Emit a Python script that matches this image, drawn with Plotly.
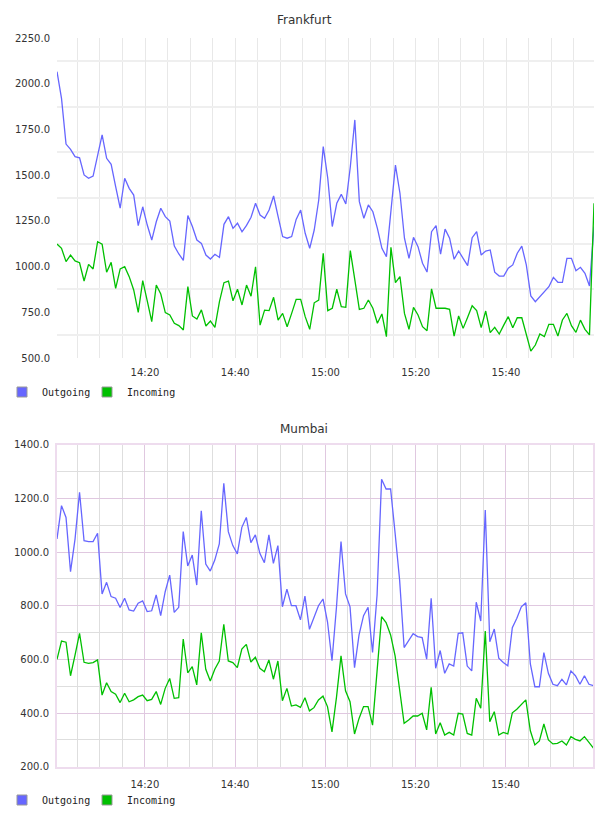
import plotly.graph_objects as go
from datetime import datetime, timedelta

# ---------------- data ----------------
start_time = datetime(2024, 1, 1, 14, 0, 30)
minutes = list(range(120))
times = [start_time + timedelta(minutes=m) for m in minutes]

tick_times = ["2024-01-01 14:20:00", "2024-01-01 14:40:00", "2024-01-01 15:00:00",
              "2024-01-01 15:20:00", "2024-01-01 15:40:00"]
tick_text = ["14:20", "14:40", "15:00", "15:20", "15:40"]

fra_ticks = [500, 750, 1000, 1250, 1500, 1750, 2000, 2250]
mum_ticks = [200, 400, 600, 800, 1000, 1200, 1400]

fra_out = [2066, 1920, 1670, 1641, 1601, 1595, 1501, 1483, 1495, 1610, 1720, 1592, 1559, 1437, 1319,
           1483, 1428, 1391, 1224, 1327, 1227, 1145, 1245, 1319, 1273, 1249, 1112, 1069, 1034, 1279,
           1219, 1145, 1127, 1063, 1041, 1067, 1050, 1231, 1273, 1209, 1237, 1190, 1225, 1270,
           1346, 1282, 1264, 1309, 1386, 1273, 1164, 1155, 1164, 1258, 1309, 1182, 1100, 1200, 1364,
           1656, 1483, 1219, 1346, 1395, 1342, 1546, 1802, 1355, 1264, 1337, 1300, 1209, 1100, 1054,
           1309, 1555, 1401, 1155, 1045, 1160, 1109, 1018, 970, 1191, 1224, 1068,
           1205, 1155, 1040, 1085, 1045, 1005, 1158, 1191, 1063, 1085, 1091, 969, 948, 948, 991,
           1009, 1073, 1112, 1009, 839, 808, 835, 863, 890, 941, 914, 914, 1045, 1045, 977, 996,
           963, 894, 1219]
fra_in = [1123, 1100, 1027, 1063, 1031, 1021, 921, 1012, 987, 1136, 1122, 969, 1023, 881, 987,
          999, 945, 872, 750, 923, 813, 699, 899, 850, 748, 735, 690, 677, 653, 890, 730, 713,
          763, 675, 702, 668, 808, 912, 921, 813, 876, 790, 899, 838,
          999, 680, 762, 759, 832, 707, 744, 671, 744, 821, 821, 726, 657, 802, 817, 1073, 759,
          772, 876, 781, 777, 1087, 927, 766, 772, 817, 772, 690, 741, 617, 1105, 912, 945, 744,
          657, 777, 735, 671, 649, 878, 772, 772,
          772, 766, 620, 730, 662, 723, 786, 759, 666, 757, 639, 668, 631, 680, 726, 666, 720,
          720, 631, 538, 571, 631, 617, 684, 684, 620, 708, 744, 677, 640, 707, 657, 626, 1346]

mum_out = [1049, 1173, 1129, 927, 1048, 1223, 1042, 1039, 1039, 1070, 844, 887, 834, 828, 793,
           828, 784, 780, 809, 818, 778, 781, 840, 763, 852, 914, 775, 794, 1076, 948, 989, 877,
           1154, 955, 929, 970, 1030, 1256, 1076, 1024, 993, 1092, 1129, 1035,
           1064, 995, 960, 1064, 958, 1024, 796, 862, 800, 800, 747, 836, 712, 753, 800, 825,
           740, 595, 796, 1039, 844, 796, 569, 691, 763, 794, 626, 840, 1271, 1235, 1235, 1070,
           896, 644, 668, 696, 685, 681, 601, 828, 567, 633,
           548, 583, 575, 697, 699, 575, 557, 813, 743, 1157, 666, 713, 604, 588, 576, 718, 753,
           796, 811, 583, 498, 498, 625, 548, 507, 502, 526, 505, 557, 539, 507, 539, 507, 502]
mum_in = [600, 668, 664, 539, 616, 697, 589, 585, 588, 598, 467, 513, 480, 470, 439, 474, 442,
          449, 461, 467, 446, 451, 480, 432, 492, 529, 455, 457, 676, 550, 573, 505, 699, 563,
          519, 563, 594, 731, 594, 588, 569, 638, 656, 590,
          608, 567, 554, 598, 526, 594, 446, 492, 426, 430, 421, 457, 408, 420, 449, 463, 424,
          330, 459, 613, 483, 442, 322, 380, 424, 424, 355, 542, 759, 737, 691, 613, 492, 362,
          374, 389, 389, 399, 337, 496, 322, 364,
          318, 328, 318, 399, 396, 324, 318, 455, 418, 706, 368, 405, 318, 328, 322, 401, 414,
          433, 449, 334, 281, 296, 359, 300, 285, 287, 296, 281, 312, 302, 296, 312, 289, 269]

series_names = ["Outgoing", "Incoming"]
series_colors = ["#6666ff", "#00c000"]

# ---------------- figure ----------------
fig = go.Figure()
TXT = "DejaVu Sans"
MONO = "DejaVu Sans Mono"

for data, xa, ya in [((fra_out, fra_in), "x", "y"), ((mum_out, mum_in), "x2", "y2")]:
    for vals, name, col in zip(data, series_names, series_colors):
        fig.add_trace(go.Scatter(x=times, y=vals, mode="lines", name=name,
                                 line=dict(color=col, width=1.3), xaxis=xa, yaxis=ya,
                                 showlegend=False, hoverinfo="skip"))

# one legend per entry so each swatch can sit where the reference has it
legend_ids = [("legend", "legend3", "x", "y"), ("legend2", "legend4", "x2", "y2")]
for lg_out, lg_in, xa, ya in legend_ids:
    for lg, name, col in zip((lg_out, lg_in), series_names, series_colors):
        fig.add_trace(go.Scatter(x=[None], y=[None], mode="markers", name=name,
                                 marker=dict(symbol="square", size=10, color=col,
                                             line=dict(color="#999999", width=1)),
                                 xaxis=xa, yaxis=ya, legend=lg, showlegend=True))

W, H = 608, 816
ML, MR = 57, 14
PW = W - ML - MR


def px_to_xpaper(px):
    return (px - ML) / PW


def py_to_ypaper(py):
    return (H - py) / H


xrange_ = [times[0], times[-1]]
tickfont = dict(family=TXT, size=10, color="#333333")


def legend_at(px, py):
    return dict(orientation="h", xref="container", yref="container",
                x=px / W, y=(H - py) / H, xanchor="left", yanchor="middle",
                font=dict(family=MONO, size=10, color="#222222"),
                bgcolor="rgba(0,0,0,0)", itemclick=False, itemdoubleclick=False)


fig.update_layout(
    width=W, height=H,
    margin=dict(l=ML, r=MR, t=0, b=0, autoexpand=False),
    paper_bgcolor="white", plot_bgcolor="white",
    xaxis=dict(domain=[0, 1], anchor="y", range=xrange_, type="date",
               tickvals=tick_times, ticktext=tick_text, tickfont=tickfont,
               ticks="outside", ticklen=5, tickcolor="rgba(0,0,0,0)",
               showgrid=True, gridcolor="#e8e8e8", gridwidth=1,
               minor=dict(dtick=300000, tick0="2024-01-01 14:05:00", showgrid=True,
                          gridcolor="#e8e8e8", gridwidth=1),
               zeroline=False, showline=False),
    yaxis=dict(domain=[py_to_ypaper(358), py_to_ypaper(38)], anchor="x",
               range=[500, 2250], tickvals=fra_ticks,
               ticktext=[f"{v:.1f}" for v in fra_ticks], tickfont=tickfont,
               ticks="outside", ticklen=4, tickcolor="rgba(0,0,0,0)",
               showgrid=False,
               minor=dict(tick0=625, dtick=250, showgrid=True, gridcolor="#efefef", gridwidth=2),
               zeroline=False, showline=False),
    xaxis2=dict(domain=[0, 0.999], anchor="y2", range=xrange_, type="date",
                tickvals=tick_times, ticktext=tick_text, tickfont=tickfont,
                ticks="outside", ticklen=7, tickcolor="rgba(0,0,0,0)",
                showgrid=True, gridcolor="#e0c8e0", gridwidth=1,
                minor=dict(dtick=300000, tick0="2024-01-01 14:05:00", showgrid=True,
                           gridcolor="#dedede", gridwidth=1),
                zeroline=False, showline=True, mirror=True, linecolor="#eedcee", linewidth=2),
    yaxis2=dict(domain=[py_to_ypaper(766.7), py_to_ypaper(444.7)], anchor="x2",
                range=[200, 1400], tickvals=mum_ticks,
                ticktext=[f"{v:.1f}" for v in mum_ticks], tickfont=tickfont,
                ticks="outside", ticklen=4, tickcolor="rgba(0,0,0,0)",
                showgrid=True, gridcolor="#e0c8e0", gridwidth=1,
                minor=dict(dtick=100, tick0=200, showgrid=True, gridcolor="#dedede", gridwidth=1),
                zeroline=False, showline=True, mirror=True, linecolor="#eedcee", linewidth=2),
    legend=legend_at(2, 392),
    legend3=legend_at(87, 392),
    legend2=legend_at(2, 800),
    legend4=legend_at(87, 800),
    annotations=[
        dict(text="Frankfurt", xref="paper", yref="paper", x=px_to_xpaper(304),
             y=py_to_ypaper(20), xanchor="center", yanchor="middle", showarrow=False,
             font=dict(family=TXT, size=12, color="#333333")),
        dict(text="Mumbai", xref="paper", yref="paper", x=px_to_xpaper(304),
             y=py_to_ypaper(429), xanchor="center", yanchor="middle", showarrow=False,
             font=dict(family=TXT, size=12, color="#333333")),
    ],
)

fig.write_html("out.html")
